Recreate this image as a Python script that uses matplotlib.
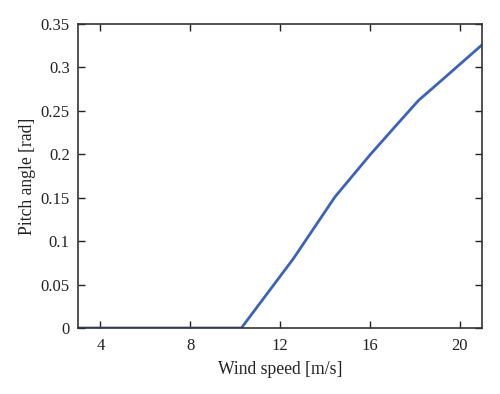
import numpy as np
import matplotlib
matplotlib.use('Agg')
import matplotlib.pyplot as plt

# data
wind = [3, 10.28, 12.6, 14.45, 16.0, 17.2, 18.17, 19.28, 21.0]
pitch = [0, 0, 0.080, 0.151, 0.199, 0.234, 0.262, 0.287, 0.326]
xticks = [4, 8, 12, 16, 20]
yticks = [0, 0.05, 0.1, 0.15, 0.2, 0.25, 0.3, 0.35]
ylabels = ['0', '0.05', '0.1', '0.15', '0.2', '0.25', '0.3', '0.35']

plt.rcParams['font.family'] = ['Liberation Serif', 'DejaVu Serif']

fig = plt.figure(figsize=(5, 3.94), dpi=100)
ax = fig.add_axes([0.156, 0.1675, 0.808, 0.7715])
ax.plot(wind, pitch, color='#3b63b9', lw=2)

ax.set_xlim(3, 21)
ax.set_ylim(0, 0.35)
ax.set_xticks(xticks)
ax.set_yticks(yticks)
ax.set_yticklabels(ylabels)
ax.tick_params(direction='in', length=5, width=1, top=True, right=True,
               labelsize=12, colors='#222222')
ax.tick_params(axis='x', pad=7)
ax.tick_params(axis='y', pad=6)
for s in ax.spines.values():
    s.set_linewidth(1.2)
    s.set_color('#333333')

ax.set_xlabel('Wind speed [m/s]', fontsize=12.7, color='#222222', labelpad=5)
ax.set_ylabel('Pitch angle [rad]', fontsize=12.7, color='#222222', labelpad=3)

fig.savefig('out.png', dpi=100)
